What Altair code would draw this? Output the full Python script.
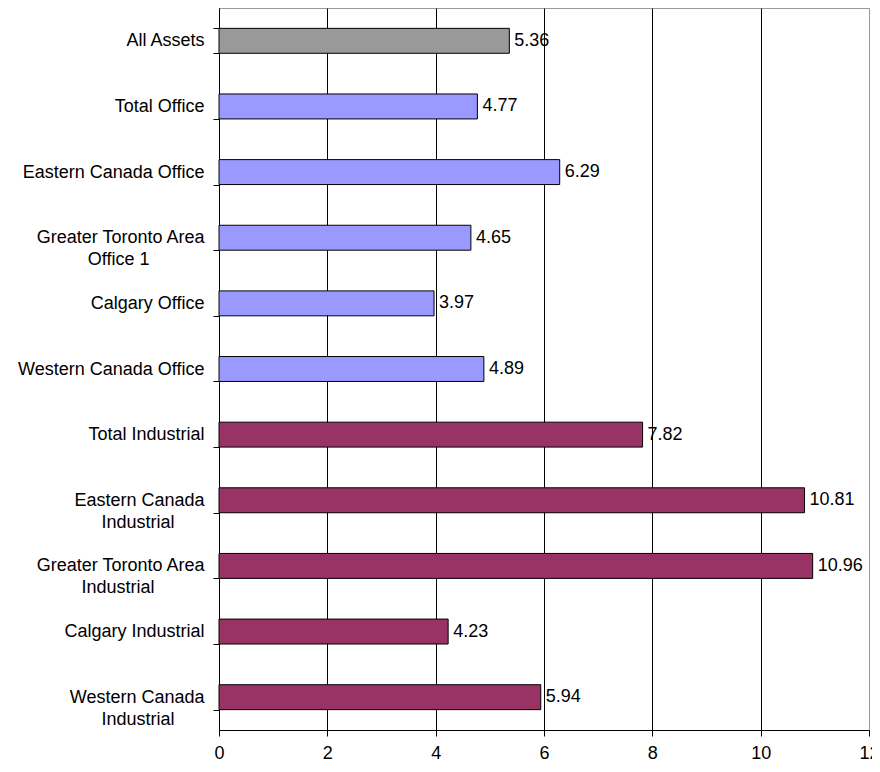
import altair as alt
import pandas as pd

# ---- data ----
categories = [
    "All Assets",
    "Total Office",
    "Eastern Canada Office",
    "Greater Toronto Area|Office 1",
    "Calgary Office",
    "Western Canada Office",
    "Total Industrial",
    "Eastern Canada|Industrial",
    "Greater Toronto Area|Industrial",
    "Calgary Industrial",
    "Western Canada|Industrial",
]
values = [5.36, 4.77, 6.29, 4.65, 3.97, 4.89, 7.82, 10.81, 10.96, 4.23, 5.94]
groups = ["All"] + ["Office"] * 5 + ["Industrial"] * 5
group_names = ["All", "Office", "Industrial"]
group_colors = ["#999999", "#9999FF", "#993366"]
x_ticks = [0, 2, 4, 6, 8, 10, 12]

# approximate Arial advance widths (1/1000 em) to centre the lines of
# two-line labels inside a right-aligned block
ARIAL = {
    "a": 556, "c": 500, "d": 556, "e": 556, "f": 278, "i": 222, "l": 222,
    "n": 556, "o": 556, "r": 333, "s": 500, "t": 278, "u": 556,
    "A": 667, "C": 722, "E": 667, "G": 778, "I": 278, "O": 778, "T": 611,
    "W": 944, "1": 556, " ": 278,
}


def text_width(s):
    return sum(ARIAL.get(ch, 556) for ch in s)


def centre_lines(label):
    lines = label.split("|")
    if len(lines) == 1:
        return label
    widest = max(text_width(l) for l in lines)
    out = []
    for l in lines:
        n = int(round((widest - text_width(l)) / 2 / 278))
        # no-break spaces keep their width; the zero-width space stops trimming
        out.append(l + "\u00a0" * n + ("\u200b" if n else ""))
    return "|".join(out)


cats = [centre_lines(c) for c in categories]
df = pd.DataFrame({"cat": cats, "val": values, "grp": groups})

FONT = "Liberation Sans"

y_enc = alt.Y(
    "cat:N",
    sort=cats,
    scale=alt.Scale(paddingInner=0.62, paddingOuter=0.31),
    axis=alt.Axis(
        title=None,
        labelExpr="isString(datum.value) ? split(datum.value, '|') : ''",
        tickBand="extent",
        grid=False,
        domainColor="black",
        tickColor="black",
        tickSize=6,
        labelPadding=9,
        labelFont=FONT,
        labelFontSize=18,
        labelColor="black",
        labelLineHeight=22,
        labelLimit=0,
    ),
)

x_enc = alt.X(
    "val:Q",
    scale=alt.Scale(domain=[0, 12], nice=False, zero=True),
    axis=alt.Axis(
        title=None,
        values=x_ticks,
        format="d",
        grid=True,
        gridColor={"condition": {"test": "datum.value >= 12", "value": "#999999"}, "value": "black"},
        gridWidth=1,
        domainColor="black",
        tickColor="black",
        tickSize=6,
        labelPadding=8,
        labelFont=FONT,
        labelFontSize=18,
        labelColor="black",
        labelFlush=False,
    ),
)

base = alt.Chart(df)

bars = base.mark_bar(stroke="black", strokeWidth=1).encode(
    y=y_enc,
    x=x_enc,
    color=alt.Color(
        "grp:N",
        scale=alt.Scale(domain=group_names, range=group_colors),
        legend=None,
    ),
)

labels = base.mark_text(
    align="left", baseline="middle", dx=5, font=FONT, fontSize=18, color="black"
).encode(
    y=alt.Y("cat:N", sort=cats),
    x=alt.X("val:Q"),
    text=alt.Text("val:Q", format=".2f"),
)

chart = (
    alt.layer(bars, labels)
    .properties(
        width=650,
        height=722,
        autosize=alt.AutoSizeParams(type="none"),
        padding={"left": 211, "top": 0, "right": 3, "bottom": 32},
        background="white",
    )
    .configure_view(stroke="#999999", strokeWidth=1)
)

chart.save("out.html", embed_options={"renderer": "svg", "actions": False})
